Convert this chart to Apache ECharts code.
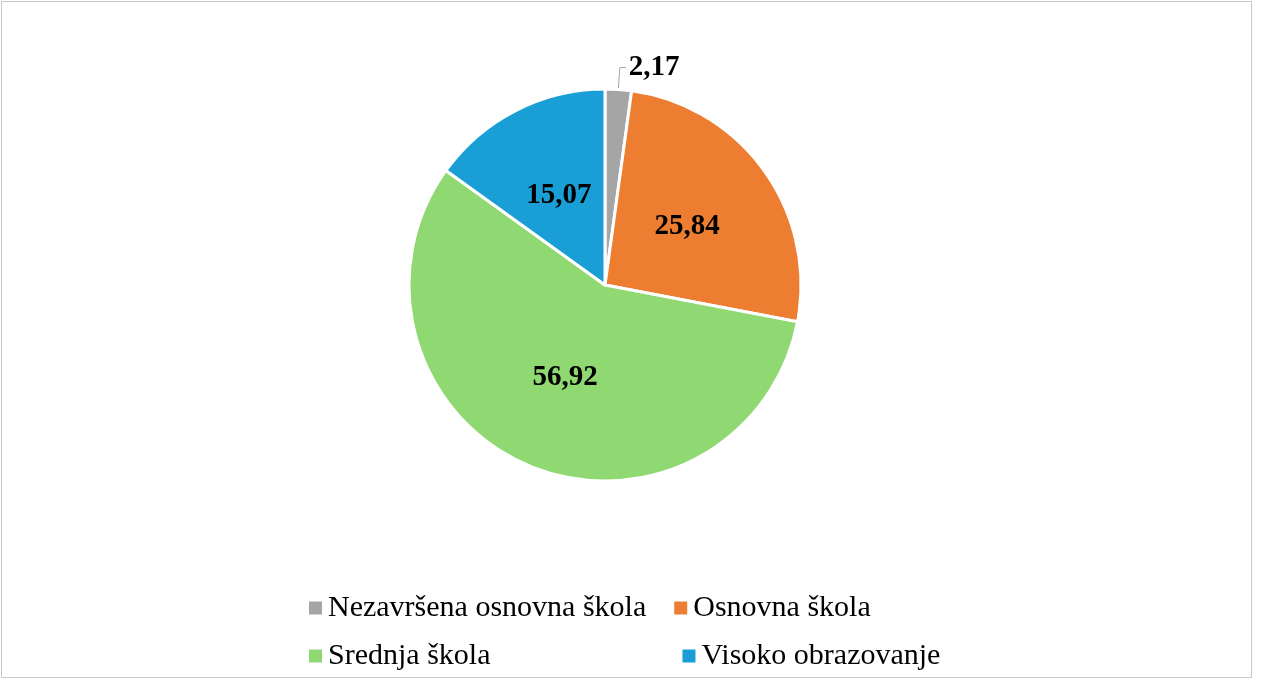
<!DOCTYPE html>
<html>
<head>
<meta charset="utf-8">
<script src="https://cdn.jsdelivr.net/npm/echarts@6/dist/echarts.min.js"></script>
<style>
  html, body { margin: 0; padding: 0; background: #fff; }
  #frame { position: absolute; left: 1px; top: 1px; width: 1251px; height: 677px; border: 1px solid #c8c8c8; box-sizing: border-box; }
  #chart { position: absolute; left: 0; top: 0; width: 1281px; height: 683px; }
</style>
</head>
<body>
<div id="frame"></div>
<div id="chart"></div>
<script>
const categories = ['Nezavršena osnovna škola', 'Osnovna škola', 'Srednja škola', 'Visoko obrazovanje'];
const values = [2.17, 25.84, 56.92, 15.07];
const colors = ['#a5a5a5', '#ed7d31', '#8fd872', '#199ed6'];

const chart = echarts.init(document.getElementById('chart'));
const legendText = { fontFamily: 'Liberation Serif', fontSize: 30, color: '#000' };

chart.setOption({
    color: colors,
    legend: [
        {
            data: [categories[0], categories[1]],
            left: 302, top: 588, itemGap: 26,
            icon: 'rect', itemWidth: 15, itemHeight: 15,
            textStyle: legendText
        },
        {
            data: [categories[2], categories[3]],
            left: 302, top: 636, itemGap: 190,
            icon: 'rect', itemWidth: 15, itemHeight: 15,
            textStyle: legendText
        }
    ],
    series: [
        {
            type: 'pie',
            center: [605, 285],
            radius: 196,
            startAngle: 90,
            clockwise: true,
            animation: false,
            itemStyle: { borderColor: '#fff', borderWidth: 3 },
            label: {
                position: 'inside',
                formatter: p => String(p.value).replace('.', ','),
                fontFamily: 'Liberation Serif',
                fontWeight: 'bold',
                fontSize: 29,
                color: '#000'
            },
            data: categories.map((name, i) => {
                const d = { name, value: values[i] };
                if (i === 0) {
                    d.label = { position: 'outside', distanceToLabelLine: 3 };
                    d.labelLine = { show: true, length: 22, length2: 6, lineStyle: { color: '#a5a5a5' } };
                }
                return d;
            })
        }
    ]
});
</script>
</body>
</html>
